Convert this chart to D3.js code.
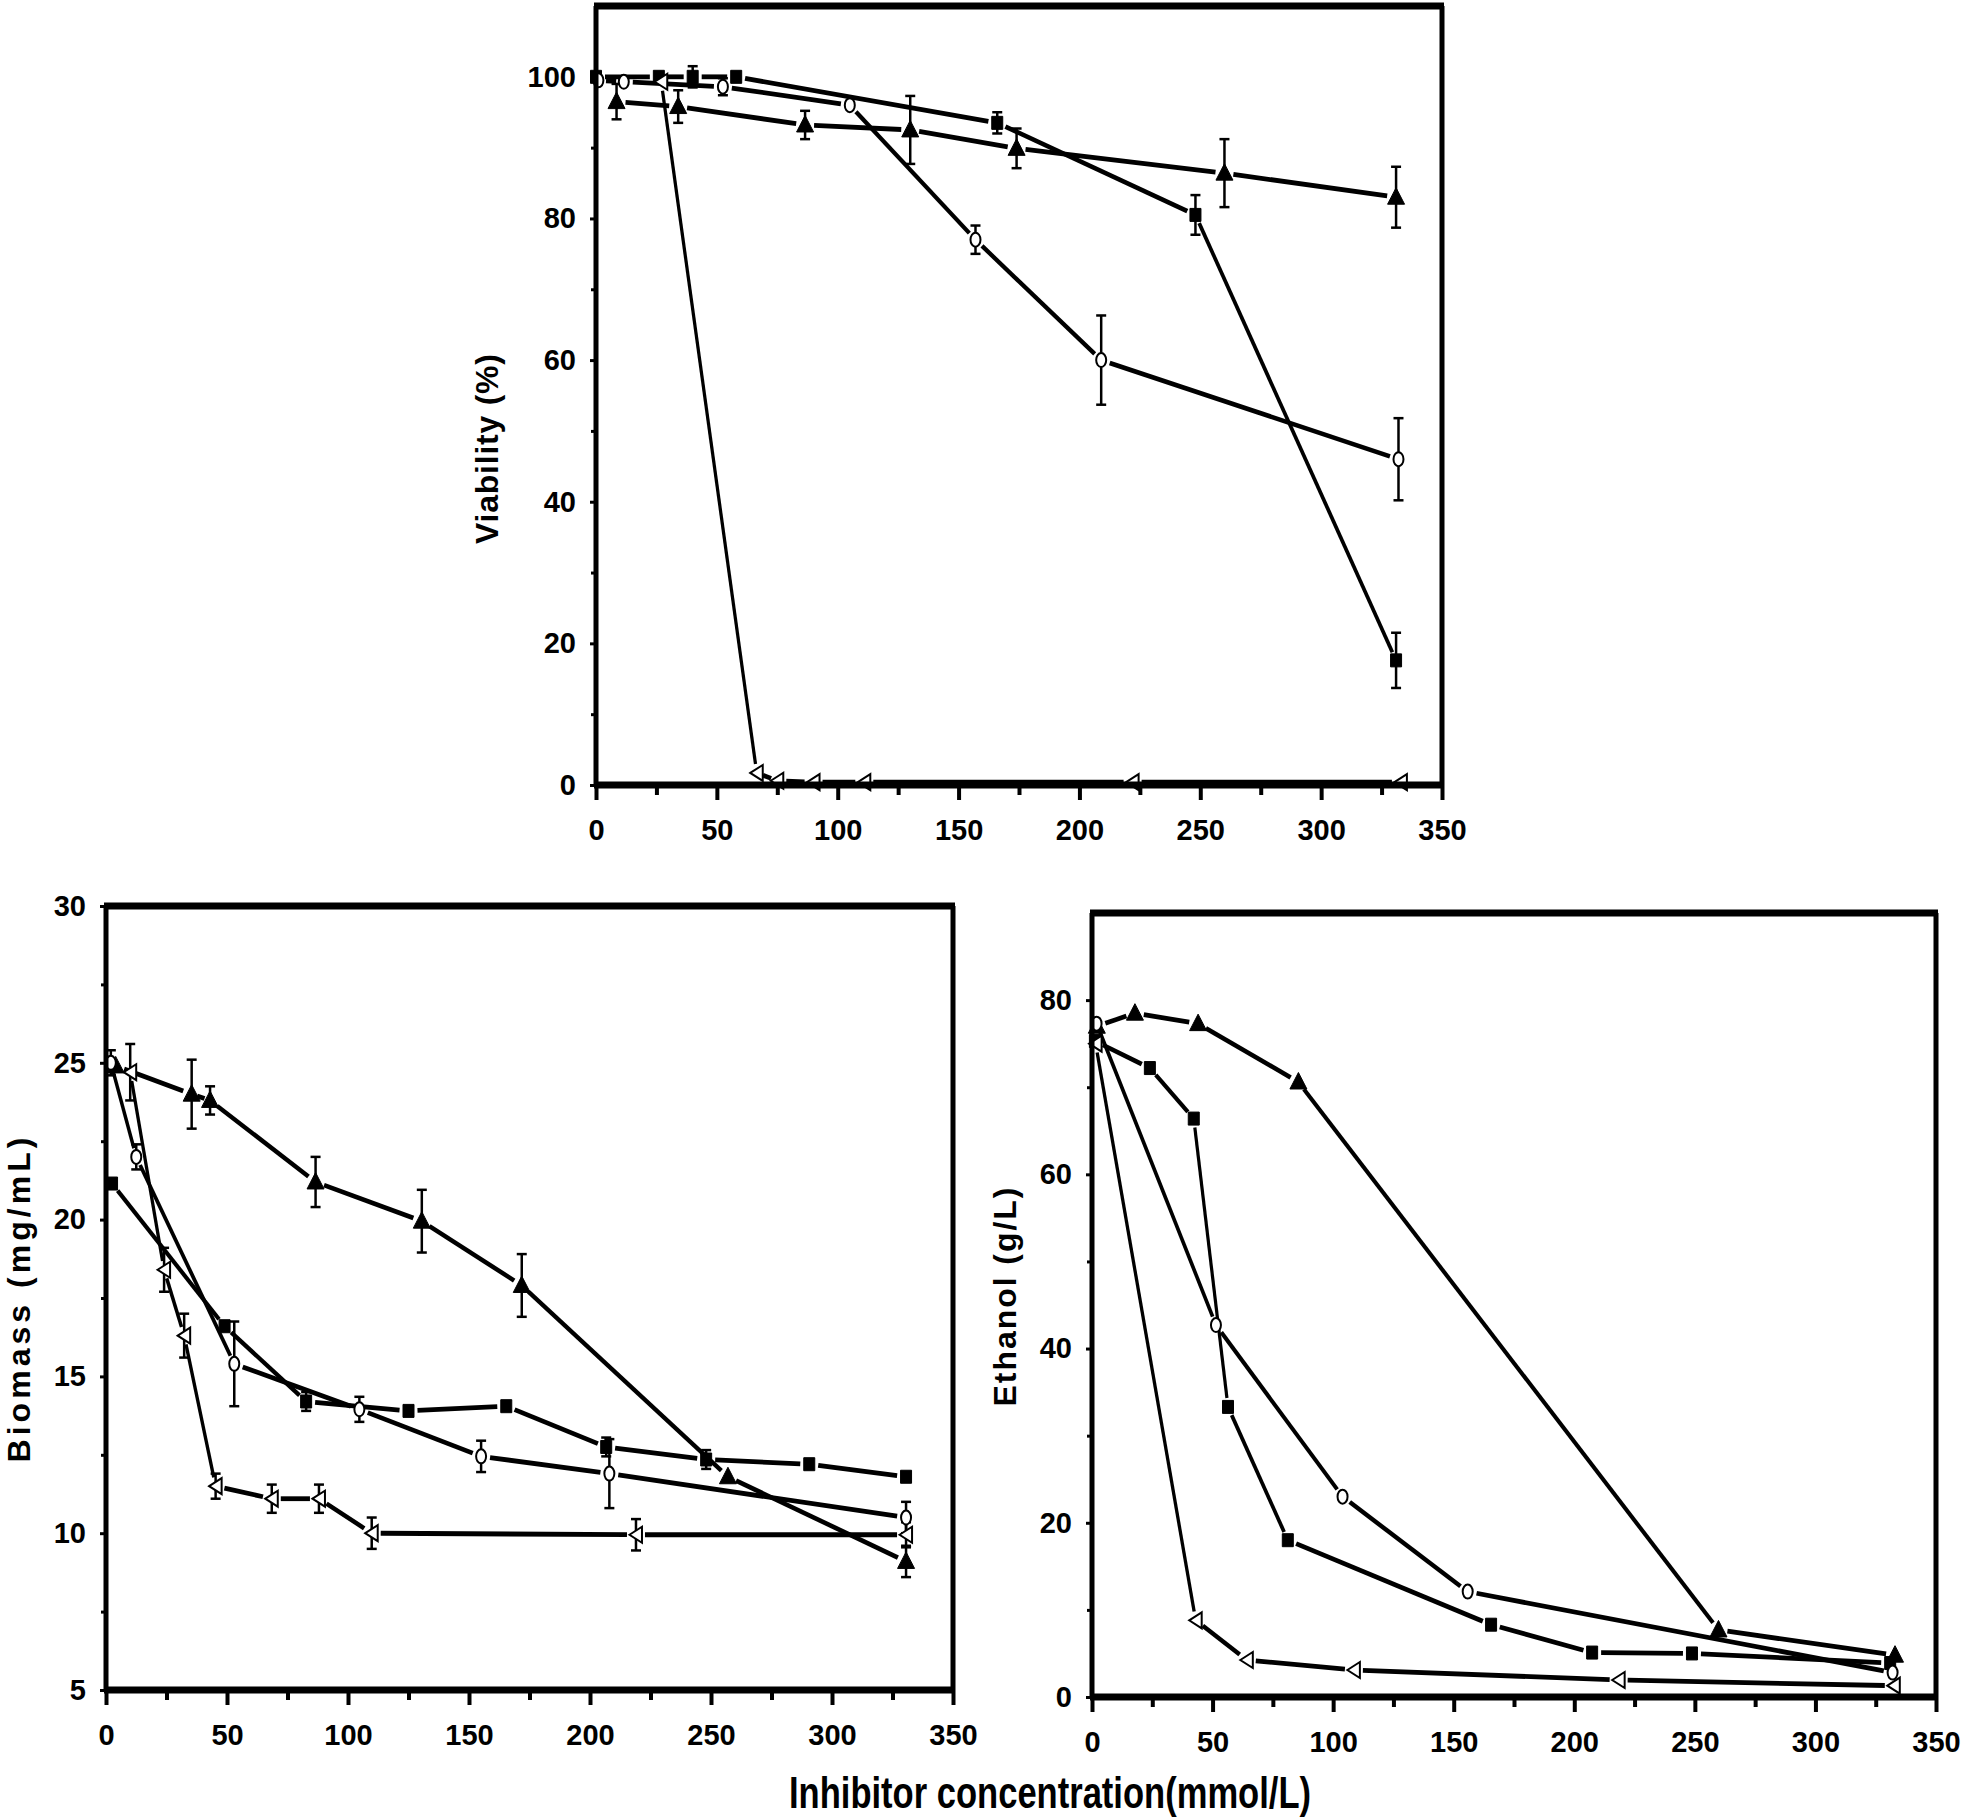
<!DOCTYPE html>
<html><head><meta charset="utf-8">
<script src="https://cdn.jsdelivr.net/npm/d3@7"></script>
<style>html,body{margin:0;padding:0;background:#fff;} svg{display:block}</style>
</head><body>
<svg id="chart" width="1961" height="1819"></svg>
<script>
// ---------- tick values ----------
const xMajorTicks = [0, 50, 100, 150, 200, 250, 300, 350];
const xMinorTicks = [25, 75, 125, 175, 225, 275, 325];
const viabilityTicks = [0, 20, 40, 60, 80, 100];
const viabilityMinor = [10, 30, 50, 70, 90];
const biomassTicks = [5, 10, 15, 20, 25, 30];
const biomassMinor = [7.5, 12.5, 17.5, 22.5, 27.5];
const ethanolTicks = [0, 20, 40, 60, 80];
const ethanolMinor = [10, 30, 50, 70];

// ---------- data: [inhibitor mmol/L, value, error] ----------
const viabilitySquare = [[0,100,0],[26,100,0],[40,100,1.5],[58,100,0],[166,93.5,1.5],[248,80.5,2.8],[331,17.6,3.9]];
const viabilityCircle = [[1,99.5,0],[11.5,99.3,0],[52.5,98.6,1.2],[105,96,0],[157,77,2],[209,60,6.3],[332,46,5.8]];
const viabilityTriangle = [[8.5,96.5,2.5],[34,95.8,2.3],[86.5,93.2,2],[130,92.5,4.8],[174,89.9,2.8],[260,86.4,4.8],[331,83,4.3]];
const viabilityLeftTri = [[27,99.3,0],[66.5,1.7,0],[75,0.6,0],[90,0.4,0],[111,0.4,0],[222,0.4,0],[333,0.4,0]];

const biomassSquare = [[2.5,21.15,0],[49,16.6,0],[82.7,14.2,0.3],[125,13.9,0],[165.4,14.05,0],[206.7,12.75,0.3],[248,12.35,0.3],[290.6,12.2,0],[330.6,11.8,0]];
const biomassCircle = [[2,25,0.4],[12.5,22,0.4],[53,15.4,1.35],[104.7,13.95,0.4],[155,12.45,0.5],[208,11.9,1.1],[330.6,10.5,0.5]];
const biomassTriangle = [[4,24.9,0],[35.4,24.0,1.1],[43,23.8,0.45],[86.6,21.2,0.8],[130.5,19.95,1.0],[171.8,17.9,1.0],[257,11.8,0],[330.6,9.1,0.5]];
const biomassLeftTri = [[10,24.7,0.9],[24,18.4,0.7],[32.3,16.3,0.7],[45.3,11.5,0.4],[68.5,11.1,0.45],[88,11.1,0.45],[109.8,10.0,0.5],[219,9.95,0.5],[330.6,9.95,0.4]];

const ethanolSquare = [[1.2,75.3,0],[24,72.2,0],[42.2,66.4,0],[56.4,33.3,0],[81.2,18.0,0],[165.5,8.3,0],[207.4,5.1,0],[248.8,5.0,0],[331,3.9,0]];
const ethanolCircle = [[1.9,77.3,0],[51.4,42.7,0],[103.9,23.0,0],[155.8,12.1,0],[332,2.8,0]];
const ethanolTriangle = [[2,77,0],[17.8,78.5,0],[44,77.3,0],[85.6,70.6,0],[259.8,7.7,0],[333,4.8,0]];
const ethanolLeftTri = [[1.5,75,0],[43,8.8,0],[64.2,4.25,0],[108.6,3.1,0],[218.4,1.95,0],[332.5,1.3,0]];

// ---------- drawing ----------
const svg = d3.select('#chart');
const FONT = '"Liberation Sans", Arial, Helvetica, sans-serif';

function markerPath(shape) {
  switch (shape) {
    case 'square': return 'M-5.5,-6.5H5.5V6.5H-5.5Z';
    case 'triangle': return 'M0,-9.5L8.5,7L-8.5,7Z';
    case 'circle': return 'M0,-7A5,7 0 1,1 0,7A5,7 0 1,1 0,-7Z';
    case 'ltri': return 'M-6.5,0L6,-8L6,8Z';
  }
}

const panels = [
  { left: 596, right: 1442, top: 6, bottom: 785, yDomain: [0, 110],
    yTicks: viabilityTicks, yMinor: viabilityMinor,
    series: [
      { data: viabilitySquare, shape: 'square', filled: true },
      { data: viabilityTriangle, shape: 'triangle', filled: true },
      { data: viabilityCircle, shape: 'circle', filled: false },
      { data: viabilityLeftTri, shape: 'ltri', filled: false }
    ],
    title: 'Viability (%)', titleX: 498, titleY: 449, titleLen: 190 },
  { left: 106, right: 953, top: 906, bottom: 1690, yDomain: [5, 30],
    yTicks: biomassTicks, yMinor: biomassMinor,
    series: [
      { data: biomassSquare, shape: 'square', filled: true },
      { data: biomassTriangle, shape: 'triangle', filled: true },
      { data: biomassCircle, shape: 'circle', filled: false },
      { data: biomassLeftTri, shape: 'ltri', filled: false }
    ],
    title: 'Biomass (mg/mL)', titleX: 30, titleY: 1300, titleLen: 325 },
  { left: 1092, right: 1936, top: 913, bottom: 1697, yDomain: [0, 90],
    yTicks: ethanolTicks, yMinor: ethanolMinor,
    series: [
      { data: ethanolSquare, shape: 'square', filled: true },
      { data: ethanolTriangle, shape: 'triangle', filled: true },
      { data: ethanolCircle, shape: 'circle', filled: false },
      { data: ethanolLeftTri, shape: 'ltri', filled: false }
    ],
    title: 'Ethanol (g/L)', titleX: 1016, titleY: 1297, titleLen: 219 }
];

function drawPanel(p) {
  const x = d3.scaleLinear().domain([0, 350]).range([p.left, p.right]);
  const y = d3.scaleLinear().domain(p.yDomain).range([p.bottom, p.top]);
  const g = svg.append('g');

  // connecting segments with small gaps at the markers
  const lineG = g.append('g').attr('stroke', '#000').attr('stroke-linecap', 'butt');
  p.series.forEach(s => {
    const pts = s.data.map(d => [x(d[0]), y(d[1])]);
    for (let i = 0; i < pts.length - 1; i++) {
      const [x1, y1] = pts[i], [x2, y2] = pts[i + 1];
      const dx = x2 - x1, dy = y2 - y1, L = Math.hypot(dx, dy);
      if (L < 1) continue;
      const gap = Math.min(9, L * 0.3), ux = dx / L, uy = dy / L;
      lineG.append('line')
        .attr('stroke-width', 3 + 1.8 * Math.abs(ux))
        .attr('x1', x1 + ux * gap).attr('y1', y1 + uy * gap)
        .attr('x2', x2 - ux * gap).attr('y2', y2 - uy * gap);
    }
  });

  // error bars
  const errG = g.append('g').attr('stroke', '#000').attr('stroke-width', 2.5);
  p.series.forEach(s => {
    s.data.filter(d => d[2] > 0).forEach(d => {
      const cx = x(d[0]), y1 = y(d[1] - d[2]), y2 = y(d[1] + d[2]);
      errG.append('line').attr('x1', cx).attr('x2', cx).attr('y1', y1).attr('y2', y2);
      errG.append('line').attr('x1', cx - 5).attr('x2', cx + 5).attr('y1', y1).attr('y2', y1);
      errG.append('line').attr('x1', cx - 5).attr('x2', cx + 5).attr('y1', y2).attr('y2', y2);
    });
  });

  // markers
  p.series.forEach(s => {
    g.append('g').selectAll('path').data(s.data).join('path')
      .attr('d', markerPath(s.shape))
      .attr('transform', d => `translate(${x(d[0])},${y(d[1])})`)
      .attr('fill', s.filled ? '#000' : '#fff')
      .attr('stroke', '#000')
      .attr('stroke-width', s.filled ? 1 : 2);
  });

  // x axis (major + minor)
  const gx = g.append('g').attr('transform', `translate(0,${p.bottom})`)
    .call(d3.axisBottom(x).tickValues(xMajorTicks).tickSize(15).tickPadding(19).tickFormat(d3.format('d')));
  gx.select('.domain').remove();
  gx.selectAll('line').attr('stroke', '#000').attr('stroke-width', 4);
  gx.selectAll('text').attr('font-family', FONT).attr('font-size', 29).attr('font-weight', 'bold').attr('fill', '#000');
  const gxm = g.append('g').attr('transform', `translate(0,${p.bottom})`)
    .call(d3.axisBottom(x).tickValues(xMinorTicks).tickSize(10).tickFormat(''));
  gxm.select('.domain').remove();
  gxm.selectAll('line').attr('stroke', '#000').attr('stroke-width', 4);

  // y axis (major + minor)
  const gy = g.append('g').attr('transform', `translate(${p.left},0)`)
    .call(d3.axisLeft(y).tickValues(p.yTicks).tickSize(6).tickPadding(14).tickFormat(d3.format('d')));
  gy.select('.domain').remove();
  gy.selectAll('line').attr('stroke', '#000').attr('stroke-width', 3);
  gy.selectAll('text').attr('font-family', FONT).attr('font-size', 29).attr('font-weight', 'bold').attr('fill', '#000');
  const gym = g.append('g').attr('transform', `translate(${p.left},0)`)
    .call(d3.axisLeft(y).tickValues(p.yMinor).tickSize(5).tickFormat(''));
  gym.select('.domain').remove();
  gym.selectAll('line').attr('stroke', '#000').attr('stroke-width', 3);

  // frame
  const fr = g.append('g').attr('stroke', '#000');
  fr.append('line').attr('x1', p.left - 2).attr('x2', p.right + 2).attr('y1', p.top).attr('y2', p.top).attr('stroke-width', 7);
  fr.append('line').attr('x1', p.left - 2).attr('x2', p.right + 2).attr('y1', p.bottom).attr('y2', p.bottom).attr('stroke-width', 7);
  fr.append('line').attr('x1', p.left).attr('x2', p.left).attr('y1', p.top).attr('y2', p.bottom).attr('stroke-width', 5);
  fr.append('line').attr('x1', p.right).attr('x2', p.right).attr('y1', p.top).attr('y2', p.bottom).attr('stroke-width', 5);

  // y title
  svg.append('text')
    .attr('transform', `translate(${p.titleX},${p.titleY}) rotate(-90)`)
    .attr('text-anchor', 'middle')
    .attr('font-family', FONT).attr('font-size', 32).attr('font-weight', 'bold')
    .attr('textLength', p.titleLen).attr('lengthAdjust', 'spacing')
    .text(p.title);
}

panels.forEach(drawPanel);

// shared x title
svg.append('text')
  .attr('x', 1050).attr('y', 1808)
  .attr('text-anchor', 'middle')
  .attr('font-family', FONT).attr('font-size', 45).attr('font-weight', 'bold')
  .attr('textLength', 522).attr('lengthAdjust', 'spacingAndGlyphs')
  .text('Inhibitor concentration(mmol/L)');
</script>
</body></html>
